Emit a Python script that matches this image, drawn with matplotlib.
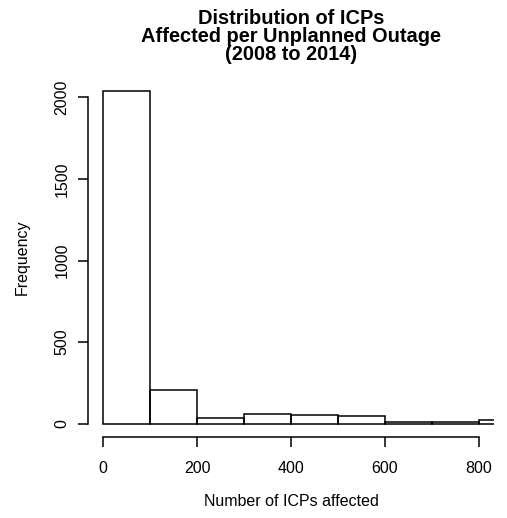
import matplotlib
matplotlib.use("Agg")
import matplotlib.pyplot as plt

# histogram of ICPs affected per outage, bins of 100
bin_edges = [0, 100, 200, 300, 400, 500, 600, 700, 800, 900]
counts = [2037, 209, 37, 57, 51, 45, 10, 12, 22]
x_ticks = [0, 200, 400, 600, 800]
y_ticks = [0, 500, 1000, 1500, 2000]

plt.rcParams['font.family'] = ['Liberation Sans', 'DejaVu Sans']

fig = plt.figure(figsize=(5.07, 5.18), dpi=100)
ax = fig.add_axes([88 / 507, 1 - 437 / 518, (494 - 88) / 507, (437 - 78) / 518])

ax.bar(bin_edges[:-1], counts, width=100, align='edge',
       fill=False, edgecolor='black', linewidth=1.1)

ax.set_xlim(-32, 832)
ax.set_ylim(-81.5, 2118.5)

for s in ['top', 'right']:
    ax.spines[s].set_visible(False)
ax.spines['left'].set_bounds(0, 2000)
ax.spines['bottom'].set_bounds(0, 800)
for s in ['left', 'bottom']:
    ax.spines[s].set_linewidth(1.1)

ax.set_xticks(x_ticks)
ax.set_yticks(y_ticks)
ax.set_xticklabels([str(v) for v in x_ticks], fontsize=11.5)
ax.set_yticklabels([str(v) for v in y_ticks], fontsize=11.5, rotation=90, va='center')
ax.tick_params(length=7, width=1.1)
ax.tick_params(axis='x', pad=10.5)
ax.tick_params(axis='y', pad=6.5)

ax.set_xlabel("Number of ICPs affected", fontsize=11.5, labelpad=13)
ax.set_ylabel("Frequency", fontsize=11.5, labelpad=17.5)

fig.text(291 / 507, 1 - 18 / 518, "Distribution of ICPs", ha='center', va='center',
         fontsize=14.4, fontweight='bold')
fig.text(291 / 507, 1 - 36.5 / 518, "Affected per Unplanned Outage", ha='center', va='center',
         fontsize=14.4, fontweight='bold')
fig.text(291 / 507, 1 - 55 / 518, "(2008 to 2014)", ha='center', va='center',
         fontsize=14.4, fontweight='bold')

fig.savefig("out.png", dpi=100)
